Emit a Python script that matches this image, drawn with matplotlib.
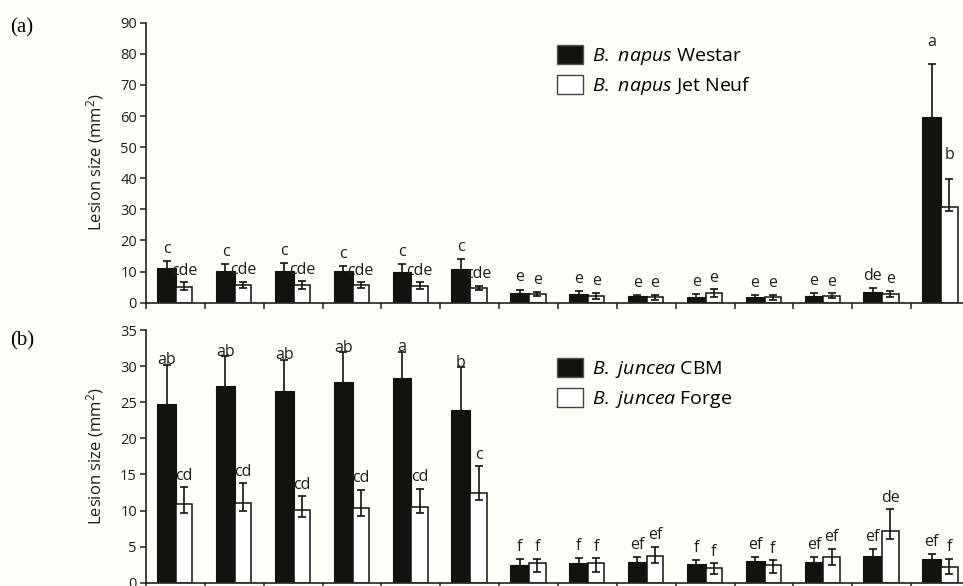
import matplotlib
matplotlib.use("Agg")
import matplotlib.pyplot as plt
import numpy as np
from matplotlib.patches import Patch

plt.rcParams['font.family'] = ['Open Sans', 'DejaVu Sans']
plt.rcParams['mathtext.fontset'] = 'custom'
plt.rcParams['mathtext.rm'] = 'Open Sans'
plt.rcParams['mathtext.it'] = 'Open Sans:italic'

# ---------------- data ----------------
groups = list(range(1, 15))

a_black = [11.1, 10.2, 10.3, 10.2, 9.9, 10.7, 3.1, 2.7, 2.1, 1.7, 1.7, 2.2, 3.4, 59.7]
a_black_err = [2.4, 2.2, 2.5, 1.7, 2.5, 3.4, 1.1, 1.1, 0.4, 1.0, 0.8, 0.9, 1.2, 17.0]
a_white = [5.2, 5.6, 5.6, 5.6, 5.5, 4.7, 2.7, 2.2, 1.7, 3.0, 1.7, 2.2, 2.8, 30.9]
a_white_hi = [1.3, 1.1, 1.3, 1.0, 1.1, 0.8, 0.8, 1.0, 0.9, 1.3, 0.8, 0.9, 1.0, 9.0]
a_white_lo = [1.2, 1.0, 1.1, 0.9, 1.0, 0.7, 0.7, 0.9, 0.8, 1.1, 0.7, 0.8, 0.9, 1.3]
a_black_lab = ['c'] * 6 + ['e'] * 6 + ['de', 'a']
a_white_lab = ['cde'] * 6 + ['e'] * 7 + ['b']

b_black = [24.7, 27.2, 26.6, 27.8, 28.3, 23.9, 2.5, 2.7, 2.9, 2.6, 3.0, 2.9, 3.7, 3.3]
b_black_err = [5.5, 4.2, 4.3, 4.1, 3.7, 6.0, 0.8, 0.7, 0.6, 0.5, 0.6, 0.6, 0.9, 0.7]
b_white = [10.9, 11.0, 10.1, 10.4, 10.5, 12.4, 2.7, 2.7, 3.7, 2.1, 2.4, 3.5, 7.1, 2.2]
b_white_hi = [2.3, 2.8, 1.9, 2.5, 2.5, 3.7, 0.6, 0.7, 1.3, 0.6, 0.7, 1.2, 3.1, 1.1]
b_white_lo = [1.2, 1.0, 1.0, 1.1, 0.9, 0.9, 1.2, 1.2, 1.0, 0.9, 1.0, 1.1, 1.1, 1.0]
b_black_lab = ['ab', 'ab', 'ab', 'ab', 'a', 'b', 'f', 'f', 'ef', 'f', 'ef', 'ef', 'ef', 'ef']
b_white_lab = ['cd'] * 5 + ['c', 'f', 'f', 'ef', 'f', 'f', 'ef', 'de', 'f']

legend_a = [r'$\it{B.\ napus}$ Westar', r'$\it{B.\ napus}$ Jet Neuf']
legend_b = [r'$\it{B.\ juncea}$ CBM', r'$\it{B.\ juncea}$ Forge']

# ---------------- figure ----------------
W, H = 963, 586
fig = plt.figure(figsize=(W / 100, H / 100), dpi=100)
bg = '#fdfdfa'
fig.patch.set_facecolor(bg)
BLACK = '#121310'
TXT = '#1e1e1e'

left_px, ax_right_px = 146, 963
ax1 = fig.add_axes([left_px / W, 1 - 302.7 / H, (ax_right_px - left_px) / W, (302.7 - 22.7) / H])
ax2 = fig.add_axes([left_px / W, 1 - 582.7 / H, (ax_right_px - left_px) / W, (582.7 - 330.0) / H])

spacing = 58.85
xmax = (W - left_px) / spacing
x = np.arange(len(groups))
xb = x + 0.35
xw = x + 0.65
bwb, bww = 0.32, 0.28


def draw(ax, blk, blk_err, wht, w_lo, w_hi, blab, wlab, ymax, ystep, leg, leg_xy, black_big_center):
    ax.set_facecolor(bg)
    ax.bar(xb, blk, bwb, color=BLACK, edgecolor=BLACK, linewidth=0.8, zorder=2)
    ax.bar(xw, wht, bww, color='white', edgecolor=BLACK, linewidth=1.1, zorder=2)
    ax.errorbar(xb, blk, yerr=blk_err, fmt='none', ecolor=BLACK, elinewidth=1.2,
                capsize=3.2, capthick=1.2, zorder=3)
    ax.errorbar(xw, wht, yerr=[w_lo, w_hi], fmt='none', ecolor=BLACK, elinewidth=1.2,
                capsize=3.2, capthick=1.2, zorder=3)
    for i in range(len(blk)):
        top = blk[i] + blk_err[i]
        if black_big_center and blk[i] > 15:
            ax.annotate(blab[i], (xb[i], top), xytext=(0, 3), textcoords='offset points',
                        ha='center', va='center', fontsize=11.5, color=TXT, zorder=4)
        else:
            pad = 10 if blk[i] > 40 else 3
            ax.annotate(blab[i], (xb[i], top), xytext=(0, pad), textcoords='offset points',
                        ha='center', va='bottom', fontsize=11.5, color=TXT, zorder=4)
        wtop = wht[i] + w_hi[i]
        pad = 11 if wht[i] > 20 else 2.5
        ax.annotate(wlab[i], (xw[i], wtop), xytext=(0, pad), textcoords='offset points',
                    ha='center', va='bottom', fontsize=11.5, color=TXT, zorder=4)
    ax.set_xlim(0, xmax)
    ax.set_ylim(0, ymax)
    ax.set_xticks(np.arange(0, 14))
    ax.set_xticklabels([])
    ax.set_yticks(np.arange(0, ymax + 0.1, ystep))
    ax.tick_params(axis='both', direction='out', length=4.5, width=1.1, color='#222222',
                   labelsize=10.5, labelcolor=TXT, pad=2)
    for s in ['top', 'right']:
        ax.spines[s].set_visible(False)
    for s in ['left', 'bottom']:
        ax.spines[s].set_linewidth(1.2)
        ax.spines[s].set_color('#222222')
    ax.set_ylabel('Lesion size (mm$^2$)', fontsize=12, color=TXT)
    handles = [Patch(facecolor=BLACK, edgecolor='#555555', linewidth=1.0),
               Patch(facecolor='white', edgecolor='#444444', linewidth=1.0)]
    ax.legend(handles, leg, loc='upper left', bbox_to_anchor=leg_xy,
              bbox_transform=fig.transFigure, frameon=False, fontsize=14,
              handlelength=1.34, handleheight=1.13, handletextpad=0.45,
              labelspacing=0.42, borderpad=0, borderaxespad=0)


draw(ax1, a_black, a_black_err, a_white, a_white_lo, a_white_hi, a_black_lab, a_white_lab,
     90, 10, legend_a, (557 / W, 1 - 45 / H), False)
draw(ax2, b_black, b_black_err, b_white, b_white_lo, b_white_hi, b_black_lab, b_white_lab,
     35, 5, legend_b, (557 / W, 1 - 358 / H), True)

ax1.yaxis.set_label_coords(-0.049, 0.5)
ax2.yaxis.set_label_coords(-0.049, 0.5)

fig.text(10 / W, 1 - 28 / H, '(a)', fontsize=15, family='Liberation Serif', va='center', ha='left')
fig.text(10 / W, 1 - 341 / H, '(b)', fontsize=15, family='Liberation Serif', va='center', ha='left')

fig.savefig('out.png', dpi=100, facecolor=bg)
